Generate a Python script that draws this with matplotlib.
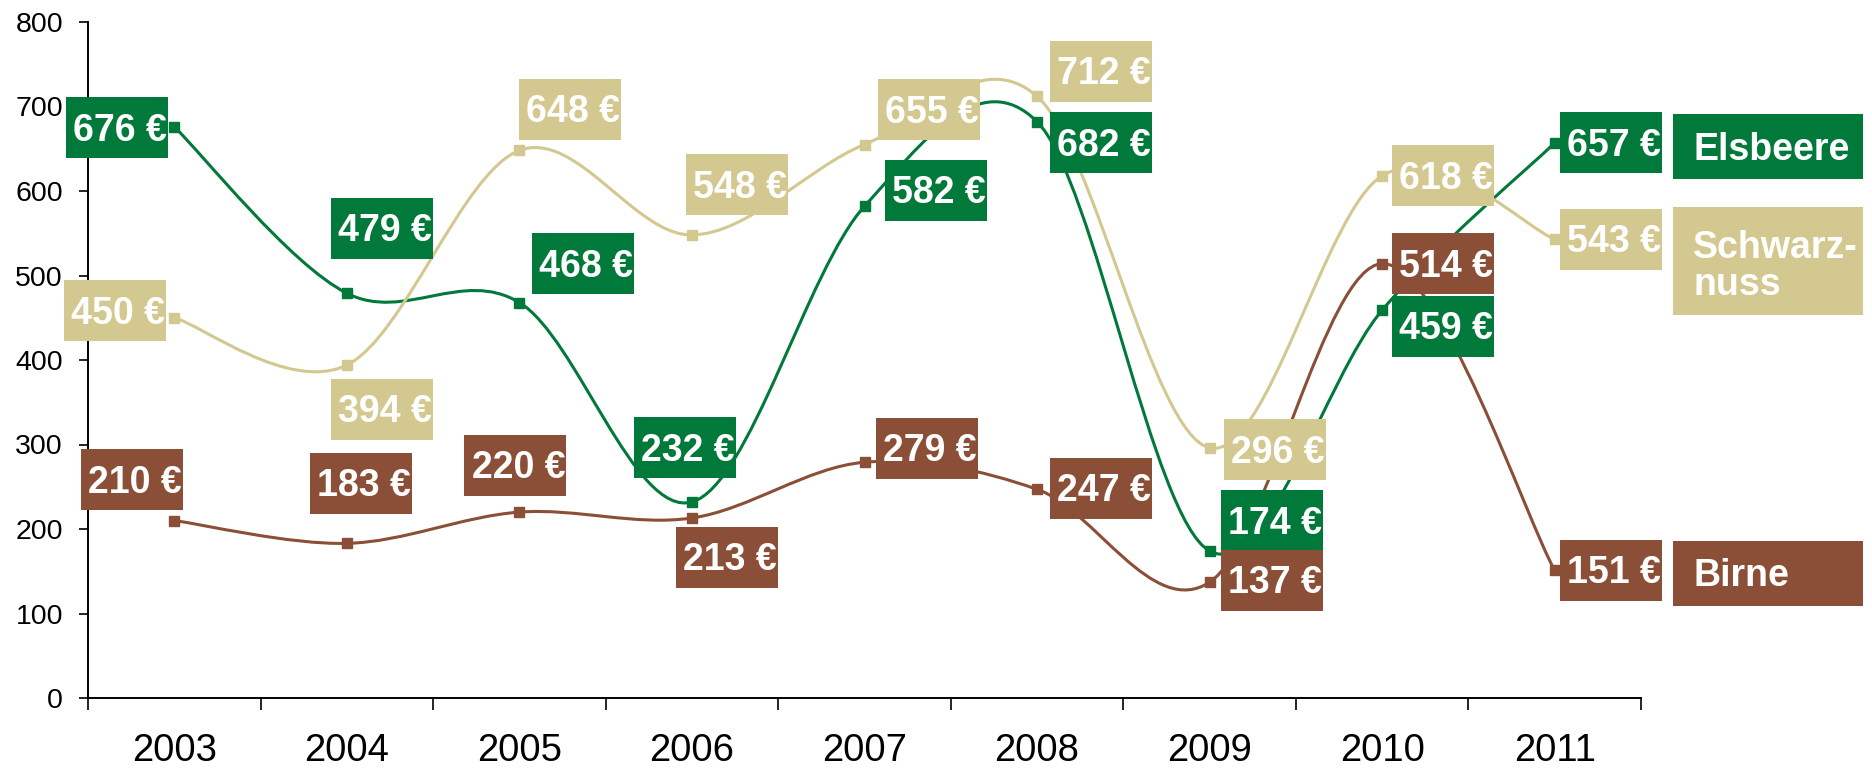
import numpy as np
import matplotlib
matplotlib.use("Agg")
import matplotlib.pyplot as plt
from matplotlib.patches import Rectangle, PathPatch
from matplotlib.path import Path
from matplotlib.transforms import IdentityTransform

plt.rcParams['font.family'] = ['Liberation Sans', 'DejaVu Sans']

# ---------------- data ----------------
years = ["2003", "2004", "2005", "2006", "2007", "2008", "2009", "2010", "2011"]
elsbeere = [676, 479, 468, 232, 582, 682, 174, 459, 657]
schwarznuss = [450, 394, 648, 548, 655, 712, 296, 618, 543]
birne = [210, 183, 220, 213, 279, 247, 137, 514, 151]
legend_names = ["Elsbeere", "Schwarz-\nnuss", "Birne"]
y_ticks = [0, 100, 200, 300, 400, 500, 600, 700, 800]

# ---------------- styles ----------------
GREEN = "#00793A"
TAN = "#D4C891"
BROWN = "#8A4F36"

# label box offsets from data point in pixels (dx right, dy down)
off_e = [(-57, 1), (35, -65), (64, -39), (-7, -54), (71, -16), (64, 21), (62, -30), (61, 16), (56, 0)]
off_s = [(-59, -7), (35, 44), (51, -41), (45, -50), (64, -35), (64, -25), (65, 2), (61, 0), (56, 0)]
off_b = [(-42, -41), (14, -60), (-4, -47), (35, 39), (62, -14), (64, -1), (62, -2), (61, 0), (56, 0)]
legend_dy = [4, 22, 3]

W, H = 1872, 772
fig = plt.figure(figsize=(W / 100, H / 100), dpi=100)
ax = fig.add_axes([88 / W, 74 / H, 1553 / W, 676 / H])
n = len(years)
ax.set_xlim(-0.5, n - 0.5)
ax.set_ylim(0, 800)

for sp in ["top", "right"]:
    ax.spines[sp].set_visible(False)
for sp in ["left", "bottom"]:
    ax.spines[sp].set_linewidth(1.4)
    ax.spines[sp].set_color("black")

ax.set_yticks(y_ticks)
ax.set_yticklabels([str(v) for v in y_ticks], fontsize=20.5)
ax.tick_params(axis="y", direction="out", length=6.5, width=1.2, pad=11.5)
ax.set_xticks(range(n))
ax.set_xticklabels(years, fontsize=27.5)
ax.tick_params(axis="x", which="major", length=0, pad=25)
ax.set_xticks(np.arange(-0.5, n, 1.0), minor=True)
ax.tick_params(axis="x", which="minor", direction="out", length=8.5, width=1.2)


def smooth_path(vals):
    x = np.arange(len(vals), dtype=float)
    pts = np.column_stack([x, np.asarray(vals, dtype=float)])
    P = np.vstack([pts[0], pts, pts[-1]])
    verts = [tuple(pts[0])]
    codes = [Path.MOVETO]
    for i in range(len(pts) - 1):
        p0 = P[i + 1]
        p3 = P[i + 2]
        c1 = p0 + (P[i + 2] - P[i]) / 6.0
        c2 = p3 - (P[i + 3] - P[i + 1]) / 6.0
        verts += [tuple(c1), tuple(c2), tuple(p3)]
        codes += [Path.CURVE4] * 3
    return Path(verts, codes)


series = [(elsbeere, GREEN, off_e), (schwarznuss, TAN, off_s), (birne, BROWN, off_b)]

for vals, col, _ in series:
    ax.add_patch(PathPatch(smooth_path(vals), facecolor="none", edgecolor=col, lw=2.2, zorder=3))
    ax.plot(range(n), vals, linestyle="none", marker="s", markersize=7, color=col, zorder=4)

BW, BH = 102, 61
for vals, col, offs in series:
    for i, v in enumerate(vals):
        px, py = ax.transData.transform((i, v))
        dx, dy = offs[i]
        cx, cy = px + dx, py - dy
        fig.add_artist(Rectangle((cx - BW / 2, cy - BH / 2), BW, BH, facecolor=col,
                                 edgecolor="none", transform=IdentityTransform(), zorder=5))
        fig.text(cx + 3, cy - 13, f"{v} €", transform=IdentityTransform(), ha="center",
                 va="baseline", color="white", fontsize=27, fontweight="bold", zorder=6)

# legend boxes at right
LX0, LW = 1673, 190
lh = [65, 108, 65]
for k, (vals, col, _) in enumerate(series):
    px, py = ax.transData.transform((n - 1, vals[-1]))
    cy = py - legend_dy[k]
    fig.add_artist(Rectangle((LX0, cy - lh[k] / 2), LW, lh[k], facecolor=col,
                             edgecolor="none", transform=IdentityTransform(), zorder=5))
    lines = legend_names[k].split("\n")
    if len(lines) == 1:
        fig.text(1693, cy - 13, lines[0], transform=IdentityTransform(), ha="left",
                 va="baseline", color="white", fontsize=27, fontweight="bold", zorder=6)
    else:
        fig.text(1693, cy + 3, lines[0], transform=IdentityTransform(), ha="left",
                 va="baseline", color="white", fontsize=27, fontweight="bold", zorder=6)
        fig.text(1693, cy - 34, lines[1], transform=IdentityTransform(), ha="left",
                 va="baseline", color="white", fontsize=27, fontweight="bold", zorder=6)

fig.savefig("out.png", dpi=100)
